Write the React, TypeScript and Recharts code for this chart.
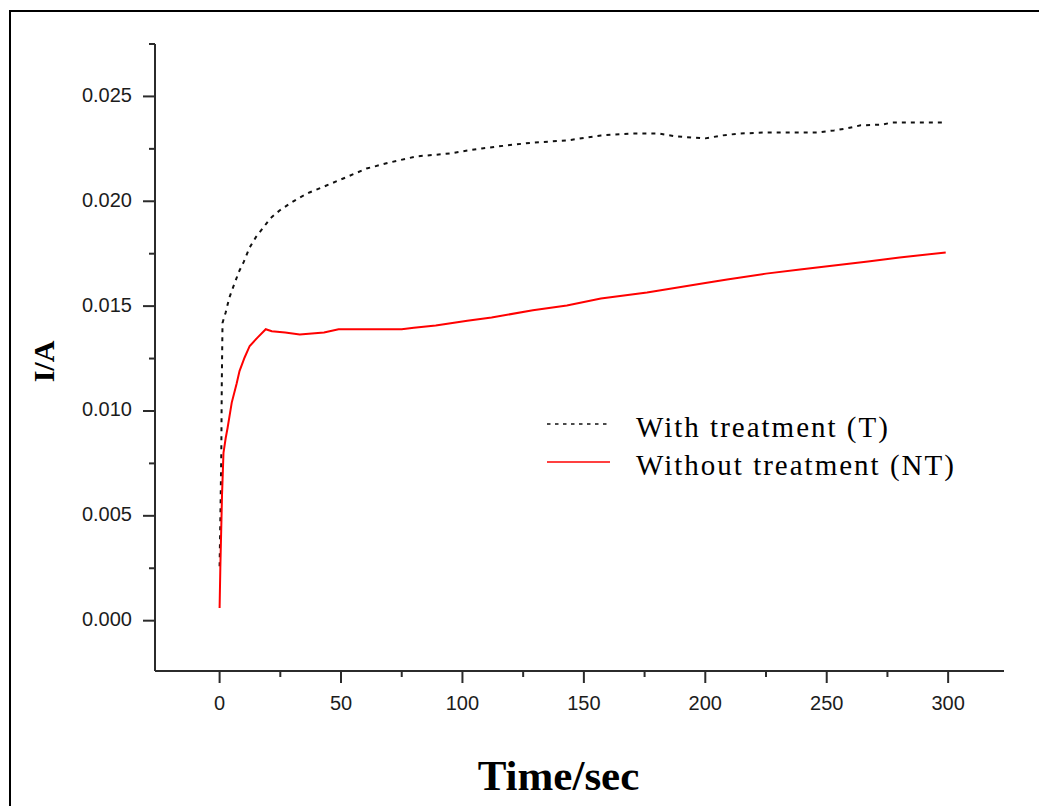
import React from "react";
import { LineChart, Line, XAxis, YAxis, Legend, Label } from "recharts";

// chronoamperometry: current (A) vs time (s)
const withTime = [
  0, 0.4, 0.7, 0.9, 1.2, 2.5, 4, 6.2, 8.2, 9.9, 12.4, 15, 17.7, 21, 24.7, 29,
  33, 37, 44, 52, 60.5, 70, 81, 95, 102, 108, 118, 129, 143, 157, 170, 181, 188,
  200, 207, 214, 225, 246, 253, 258, 264, 273, 277, 298,
];
const withCurrent = [
  0.0026, 0.0055, 0.008, 0.0113, 0.0142, 0.0147, 0.0154, 0.0161, 0.0167,
  0.0171, 0.0178, 0.0183, 0.0187, 0.0192, 0.01956, 0.0199, 0.02018, 0.02042,
  0.02075, 0.02114, 0.02156, 0.02185, 0.02214, 0.02228, 0.02242, 0.02252,
  0.02266, 0.0228, 0.0229, 0.02314, 0.02323, 0.02323, 0.02309, 0.023, 0.02314,
  0.02323, 0.02328, 0.02328, 0.02338, 0.02347, 0.02362, 0.02366, 0.02376,
  0.02376,
];

const withoutTime = [
  0, 0.3, 1, 1.6, 2.5, 3.3, 5, 7, 8.2, 10.3, 12.4, 15.6, 19, 21.5, 27, 33, 43,
  49, 75, 80, 89, 102, 112, 129, 143, 157, 176, 200, 209, 225, 239, 253, 267,
  280, 299,
];
const withoutCurrent = [
  0.0006, 0.0025, 0.006, 0.008, 0.0087, 0.0092, 0.0104, 0.0113, 0.0119,
  0.01255, 0.0131, 0.0135, 0.0139, 0.0138, 0.01374, 0.01365, 0.01374, 0.0139,
  0.0139, 0.01397, 0.01408, 0.0143, 0.01446, 0.0148, 0.01503, 0.01536, 0.01565,
  0.0161, 0.01627, 0.01655, 0.01675, 0.01694, 0.01713, 0.01732, 0.01756,
];

const xMajorTicks = [0, 50, 100, 150, 200, 250, 300];
const xMinorTicks = [25, 75, 125, 175, 225, 275];
const yMajorTicks = [0, 0.005, 0.01, 0.015, 0.02, 0.025];
const yMinorTicks = [0.0025, 0.0075, 0.0125, 0.0175, 0.0225, 0.0275];

const withData = withTime.map((t, k) => ({ t, i: withCurrent[k] }));
const withoutData = withoutTime.map((t, k) => ({ t, i: withoutCurrent[k] }));

const AXIS = "#2b2b2b";
const TICK_FONT = "'Liberation Sans', Arial, sans-serif";
const TITLE_FONT = "'Liberation Serif', 'Times New Roman', serif";

const isMajorY = (v: number) => yMajorTicks.some((m) => Math.abs(m - v) < 1e-9);

const XTick = ({ x, y, payload }: any) => {
  const major = xMajorTicks.includes(payload.value);
  return (
    <g>
      <line x1={x} x2={x} y1={y} y2={y + (major ? 12 : 6)} stroke={AXIS} strokeWidth={2} />
      {major && (
        <text x={x} y={y + 39} textAnchor="middle" fontSize={20} fontFamily={TICK_FONT} fill="#1c1c1c">
          {payload.value}
        </text>
      )}
    </g>
  );
};

const YTick = ({ x, y, payload }: any) => {
  const major = isMajorY(payload.value);
  return (
    <g>
      <line x1={x} x2={x - (major ? 12 : 6)} y1={y} y2={y} stroke={AXIS} strokeWidth={2} />
      {major && (
        <text x={x - 23} y={y + 5.5} textAnchor="end" fontSize={20} fontFamily={TICK_FONT} fill="#1c1c1c">
          {payload.value.toFixed(3)}
        </text>
      )}
    </g>
  );
};

const YTitle = (props: any) => {
  const vb = props.viewBox ?? { x: 0, y: 44, width: 155, height: 627 };
  const cx = vb.x + 54;
  const cy = vb.y + vb.height / 2 + 4;
  return (
    <text
      x={cx}
      y={cy}
      transform={`rotate(-90, ${cx}, ${cy})`}
      textAnchor="middle"
      fontSize={30}
      fontWeight="bold"
      fontFamily={TITLE_FONT}
      fill="#000"
    >
      I/A
    </text>
  );
};

const XTitle = (props: any) => {
  const vb = props.viewBox ?? { x: 155, y: 671, width: 849, height: 135 };
  return (
    <text
      x={vb.x + vb.width / 2 - 21}
      y={vb.y + 119}
      textAnchor="middle"
      fontSize={43}
      fontWeight="bold"
      fontFamily={TITLE_FONT}
      fill="#000"
    >
      Time/sec
    </text>
  );
};

const SeriesLegend = ({ payload }: any) => (
  <svg width={450} height={100}>
    {(payload ?? []).map((entry: any, k: number) => {
      const lineY = 24 + k * 38;
      return (
        <g key={entry.value}>
          <line
            x1={7}
            x2={70}
            y1={lineY}
            y2={lineY}
            stroke={entry.color}
            strokeWidth={1.6}
            strokeDasharray={entry.payload?.strokeDasharray ? "3.5 4.5" : undefined}
          />
          <text
            x={96}
            y={lineY + 13}
            fontSize={29}
            letterSpacing={2}
            fontFamily={TITLE_FONT}
            fill="#000"
          >
            {entry.value}
          </text>
        </g>
      );
    })}
  </svg>
);

// open frame: only the top and left edges
const Frame = () => (
  <svg
    width={1039}
    height={806}
    style={{ position: "absolute", left: 0, top: 0, pointerEvents: "none" }}
  >
    <line x1={9} x2={1039} y1={11} y2={11} stroke="#000" strokeWidth={2} />
    <line x1={10} x2={10} y1={10} y2={806} stroke="#000" strokeWidth={2} />
  </svg>
);

export default function App() {
  return (
    <div style={{ position: "absolute", left: 0, top: 0, width: 1039, height: 806, background: "#fff", overflow: "hidden" }}>
      <style>{"html, body { margin: 0; overflow: hidden; background: #fff; }"}</style>
      <LineChart
        width={1039}
        height={806}
        margin={{ top: 44, right: 35, bottom: 0, left: 0 }}
      >
        <XAxis
          type="number"
          dataKey="t"
          domain={[-26.6, 323]}
          ticks={[...xMajorTicks, ...xMinorTicks].sort((a, b) => a - b)}
          interval={0}
          height={135}
          tickSize={0}
          tickMargin={0}
          tick={<XTick />}
          axisLine={{ stroke: AXIS, strokeWidth: 2 }}
          tickLine={false}
        >
          <Label content={<XTitle />} />
        </XAxis>
        <YAxis
          type="number"
          dataKey="i"
          domain={[-0.0024, 0.0275]}
          ticks={[...yMajorTicks, ...yMinorTicks].sort((a, b) => a - b)}
          interval={0}
          width={155}
          tickSize={0}
          tickMargin={0}
          tick={<YTick />}
          axisLine={{ stroke: AXIS, strokeWidth: 2 }}
          tickLine={false}
        >
          <Label content={<YTitle />} />
        </YAxis>
        <Legend
          layout="vertical"
          align="center"
          verticalAlign="middle"
          content={<SeriesLegend />}
          wrapperStyle={{ left: 540, top: 400, width: 450, height: 100 }}
        />
        <Line
          data={withData}
          dataKey="i"
          name="With treatment (T)"
          type="linear"
          stroke="#111"
          strokeWidth={2}
          strokeDasharray="4 5"
          dot={false}
          activeDot={false}
          isAnimationActive={false}
        />
        <Line
          data={withoutData}
          dataKey="i"
          name="Without treatment (NT)"
          type="linear"
          stroke="#ff0000"
          strokeWidth={2}
          dot={false}
          activeDot={false}
          isAnimationActive={false}
        />
      </LineChart>
      <Frame />
    </div>
  );
}
